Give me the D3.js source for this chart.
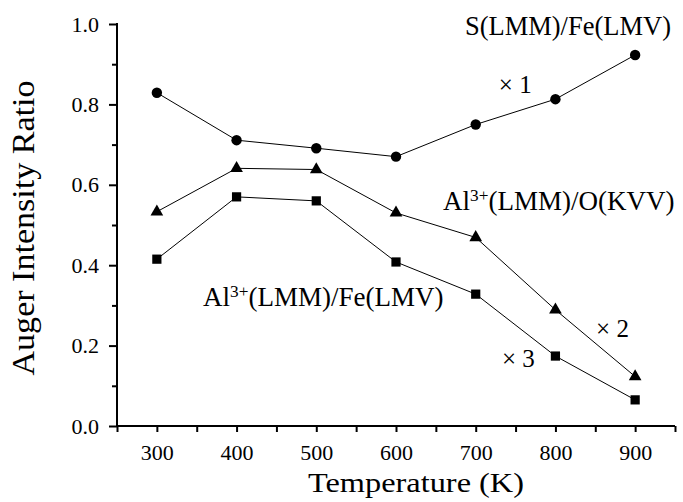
<!DOCTYPE html>
<html>
<head>
<meta charset="utf-8">
<script src="https://cdn.jsdelivr.net/npm/d3@7"></script>
<style>
  html, body { margin: 0; padding: 0; background: #fff; }
  svg { display: block; }
  svg text { font-family: "Liberation Serif"; }
</style>
</head>
<body>
<svg id="chart" width="683" height="502"></svg>
<script>
// Auger intensity ratios vs. annealing temperature
const temperatures = [300, 400, 500, 600, 700, 800, 900];
const sFe   = [0.829, 0.711, 0.691, 0.670, 0.750, 0.813, 0.923];  // S(LMM)/Fe(LMV), x1
const alO   = [0.533, 0.641, 0.638, 0.530, 0.469, 0.289, 0.123];  // Al3+(LMM)/O(KVV), x2
const alFe  = [0.415, 0.570, 0.560, 0.408, 0.328, 0.174, 0.065];  // Al3+(LMM)/Fe(LMV), x3

const xMajorTicks = [300, 400, 500, 600, 700, 800, 900];
const xMinorTicks = [250, 350, 450, 550, 650, 750, 850, 950];
const yMajorTicks = [0.0, 0.2, 0.4, 0.6, 0.8, 1.0];
const yMinorTicks = [0.1, 0.3, 0.5, 0.7, 0.9];

const xTitle = "Temperature (K)";
const yTitle = "Auger Intensity Ratio";

const FONT = "Liberation Serif";

const svg = d3.select("#chart");
const width = 683, height = 502;
const margin = { left: 117, right: 8, top: 24, bottom: 76 };

const x = d3.scaleLinear().domain([250, 950]).range([margin.left, width - margin.right]);
const y = d3.scaleLinear().domain([0, 1]).range([height - margin.bottom, margin.top]);

// ---- axes ----
const axisStroke = 2;

function styleAxis(g) {
  g.attr("font-family", FONT);
  g.selectAll("path.domain").remove();
  g.selectAll("line").attr("stroke", "#000").attr("stroke-width", axisStroke);
  g.selectAll("text").attr("font-family", FONT).attr("font-size", 22).attr("fill", "#000");
}

svg.append("g").attr("transform", `translate(0,${y(0)})`)
  .call(d3.axisBottom(x).tickValues(xMinorTicks).tickSize(6).tickFormat(""))
  .call(styleAxis);
svg.append("g").attr("transform", `translate(0,${y(0)})`)
  .call(d3.axisBottom(x).tickValues(xMajorTicks).tickSize(6).tickPadding(12).tickFormat(d3.format("d")))
  .call(styleAxis);

svg.append("g").attr("transform", `translate(${x(250)},0)`)
  .call(d3.axisLeft(y).tickValues(yMinorTicks).tickSize(5).tickFormat(""))
  .call(styleAxis);
svg.append("g").attr("transform", `translate(${x(250)},0)`)
  .call(d3.axisLeft(y).tickValues(yMajorTicks).tickSize(8).tickPadding(10).tickFormat(d3.format(".1f")))
  .call(styleAxis);

// axis lines
svg.append("path")
  .attr("d", `M${x(250)},${y(1) - 1}V${y(0)}H${x(950)}`)
  .attr("fill", "none").attr("stroke", "#000").attr("stroke-width", axisStroke);

svg.append("text")
  .attr("font-family", FONT)
  .attr("x", 416)
  .attr("y", 492)
  .attr("text-anchor", "middle")
  .attr("font-size", 28)
  .attr("textLength", 216)
  .attr("lengthAdjust", "spacingAndGlyphs")
  .text(xTitle);

svg.append("text")
  .attr("font-family", FONT)
  .attr("transform", `translate(34,${(y(0) + y(1)) / 2 + 3}) rotate(-90)`)
  .attr("text-anchor", "middle")
  .attr("font-size", 32)
  .attr("textLength", 295)
  .attr("lengthAdjust", "spacingAndGlyphs")
  .text(yTitle);

// ---- series ----
const series = [
  { values: sFe,  symbol: d3.symbolCircle,   size: 85 },
  { values: alO,  symbol: d3.symbolTriangle, size: 70 },
  { values: alFe, symbol: d3.symbolSquare,   size: 85 }
];

const line = d3.line().x(d => x(d[0])).y(d => y(d[1]));

series.forEach(s => {
  const pts = temperatures.map((t, i) => [t, s.values[i]]);
  svg.append("path")
    .datum(pts)
    .attr("fill", "none")
    .attr("stroke", "#000")
    .attr("stroke-width", 1)
    .attr("d", line);
  svg.append("g").selectAll("path")
    .data(pts)
    .join("path")
    .attr("transform", d => `translate(${x(d[0])},${y(d[1])})`)
    .attr("d", d3.symbol().type(s.symbol).size(s.size))
    .attr("fill", "#000");
});

// ---- annotations (positioned in data units) ----
function label(t, v, parts, size, anchor) {
  const txt = svg.append("text")
    .attr("font-family", FONT)
    .attr("fill", "#000")
    .attr("text-anchor", anchor || "start")
    .attr("x", x(t)).attr("y", y(v))
    .attr("font-size", size);
  parts.forEach(p => {
    if (p.sup) {
      txt.append("tspan").attr("dy", -9).attr("font-size", size * 0.64).text(p.text);
    } else if (p.after) {
      txt.append("tspan").attr("dy", 9).text(p.text);
    } else {
      txt.append("tspan").text(p.text);
    }
  });
  return txt;
}

label(945, 0.973, [{ text: "S(LMM)/Fe(LMV)" }], 26.5, "end");
label(729, 0.828, [{ text: "× 1" }], 25);
label(659, 0.537, [{ text: "Al" }, { text: "3+", sup: true }, { text: "(LMM)/O(KVV)", after: true }], 27);
label(358, 0.2985, [{ text: "Al" }, { text: "3+", sup: true }, { text: "(LMM)/Fe(LMV)", after: true }], 27);
label(851, 0.221, [{ text: "× 2" }], 25);
label(733, 0.147, [{ text: "× 3" }], 25);
</script>
</body>
</html>
